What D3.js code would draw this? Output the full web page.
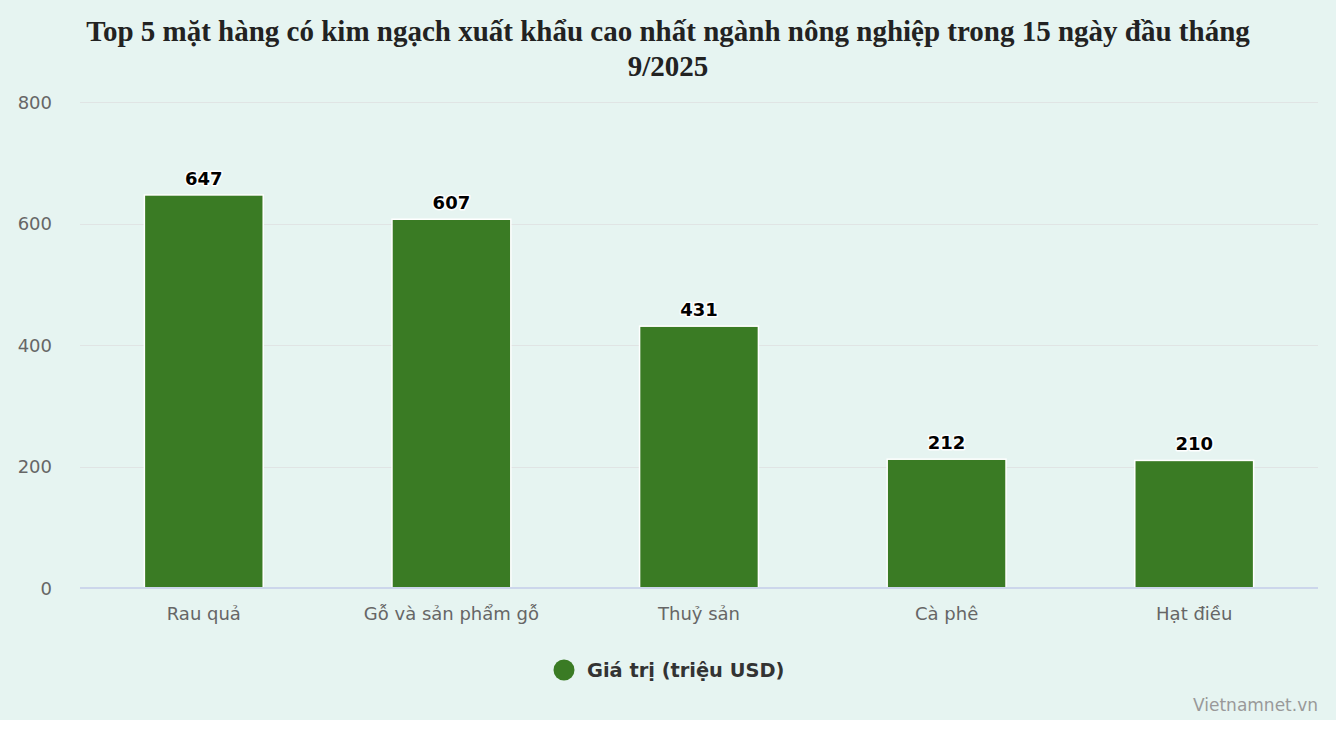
<!DOCTYPE html>
<html><head><meta charset="utf-8">
<script src="https://cdn.jsdelivr.net/npm/d3@7"></script>
<style>
html,body{margin:0;padding:0;background:#fff;}
svg{display:block;}
</style></head>
<body>
<svg id="c" width="1340" height="730"></svg>
<script>
const categories = ["Rau quả", "Gỗ và sản phẩm gỗ", "Thuỷ sản", "Cà phê", "Hạt điều"];
const values = [647, 607, 431, 212, 210];
const yTicks = [0, 200, 400, 600, 800];
const seriesName = "Giá trị (triệu USD)";
const titleLines = ["Top 5 mặt hàng có kim ngạch xuất khẩu cao nhất ngành nông nghiệp trong 15 ngày đầu tháng", "9/2025"];
const credit = "Vietnamnet.vn";

(function(){
const svg = d3.select("#c");
const font = "'DejaVu Sans', 'Lucida Grande', sans-serif";
svg.append("rect").attr("x",0).attr("y",0).attr("width",1336).attr("height",720).attr("fill","#e6f4f1");

const pL = 80, pR = 1318, pT = 102, pB = 588;
const x = d3.scaleBand().domain(categories).range([pL, pR]).paddingInner(0.52).paddingOuter(0.26);
const y = d3.scaleLinear().domain([0, 800]).range([pB, pT]);

// title
svg.append("text").attr("font-family","'Liberation Serif', 'Times New Roman', serif")
  .attr("font-weight","bold").attr("font-size",29).attr("fill","#222").attr("text-anchor","middle")
  .selectAll("tspan").data(titleLines).join("tspan")
  .attr("x",668).attr("y",(d,i)=>41+i*35).text(d=>d);

// grid
svg.append("g").selectAll("line").data(yTicks.filter(d=>d>0)).join("line")
  .attr("x1",pL).attr("x2",pR).attr("y1",d=>Math.round(y(d))+0.5).attr("y2",d=>Math.round(y(d))+0.5)
  .attr("stroke","#e0e4e4").attr("stroke-width",1);

// y axis labels
const yAxis = d3.axisLeft(y).tickValues(yTicks).tickSize(0).tickPadding(0);
const yg = svg.append("g").attr("transform",`translate(52,0)`).call(yAxis);
yg.select(".domain").remove();
yg.selectAll("text").attr("font-family",font).attr("font-size",18).attr("fill","#666").attr("dy","0.35em");

// bars
svg.append("g").selectAll("rect").data(values).join("rect")
  .attr("x",(d,i)=>x(categories[i])).attr("width",x.bandwidth())
  .attr("y",d=>y(d)).attr("height",d=>y(0)-y(d))
  .attr("fill","#3a7b24").attr("stroke","#ffffff").attr("stroke-width",1.5);

// x axis
const xAxis = d3.axisBottom(x).tickSize(0).tickPadding(0);
const xg = svg.append("g").attr("transform",`translate(0,${pB})`).call(xAxis);
xg.select(".domain").attr("stroke","#ccd6eb").attr("stroke-width",2).attr("d",`M${pL},0H${pR}`);
xg.selectAll("text").attr("font-family",font).attr("font-size",18).attr("fill","#666").attr("y",32).attr("dy",0);

// data labels
svg.append("g").selectAll("text").data(values).join("text")
  .attr("x",(d,i)=>x(categories[i])+x.bandwidth()/2).attr("y",d=>y(d)-10)
  .attr("text-anchor","middle").attr("font-family",font).attr("font-weight","bold").attr("font-size",18)
  .attr("fill","#000").attr("stroke","#fff").attr("stroke-width",3).attr("paint-order","stroke")
  .attr("stroke-linejoin","round").text(d=>d);

// legend
const lg = svg.append("g");
lg.append("circle").attr("cx",564).attr("cy",670).attr("r",10.5).attr("fill","#3a7b24");
lg.append("text").attr("x",587).attr("y",677).attr("font-family",font).attr("font-weight","bold")
  .attr("font-size",19.4).attr("fill","#333").text(seriesName);

// credit
svg.append("text").attr("x",1318).attr("y",711).attr("text-anchor","end").attr("font-family",font)
  .attr("font-size",17).attr("fill","#999").text(credit);
})();
</script>
</body></html>
